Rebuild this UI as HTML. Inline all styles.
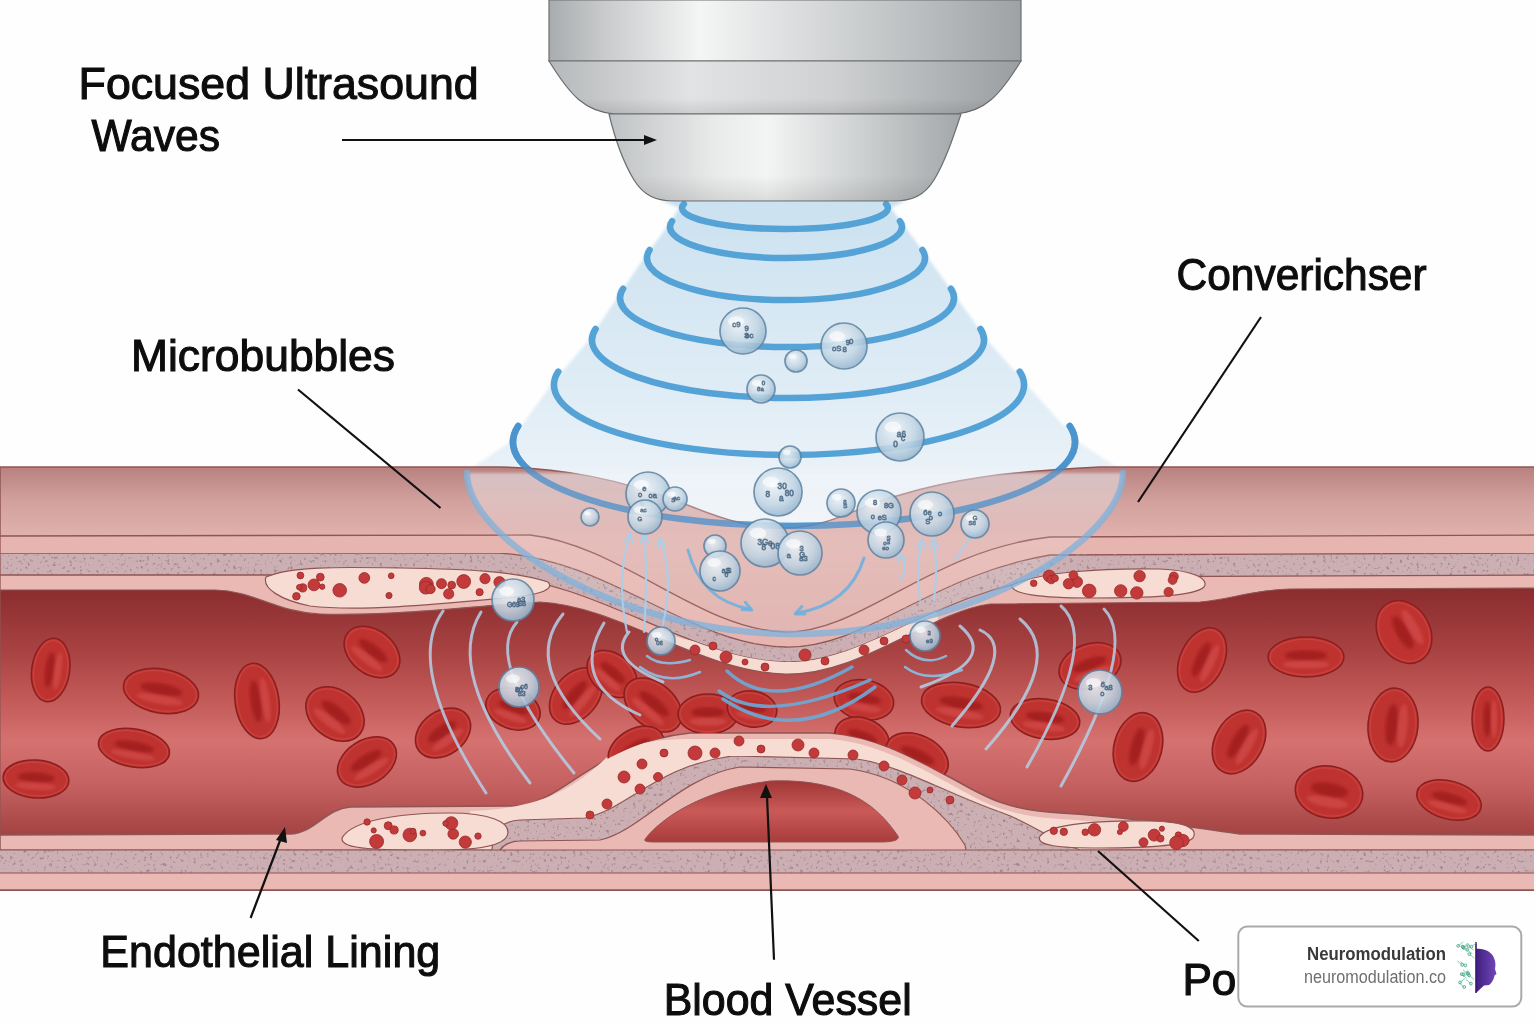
<!DOCTYPE html><html><head><meta charset="utf-8"><style>
html,body{margin:0;padding:0;background:#fff;width:1536px;height:1024px;overflow:hidden}
svg{display:block}
text{font-family:"Liberation Sans",sans-serif}
</style></head><body>
<svg width="1536" height="1024" viewBox="0 0 1536 1024">
<defs>
<linearGradient id="gCyl" x1="0" x2="1" y1="0" y2="0">
<stop offset="0" stop-color="#a9acae"/><stop offset="0.12" stop-color="#c9cbcc"/><stop offset="0.32" stop-color="#f4f5f5"/><stop offset="0.55" stop-color="#d8dadb"/><stop offset="0.8" stop-color="#b9bcbe"/><stop offset="1" stop-color="#9ea2a5"/></linearGradient>
<linearGradient id="gMid" x1="0" x2="1" y1="0" y2="0">
<stop offset="0" stop-color="#b5b8ba"/><stop offset="0.3" stop-color="#e2e3e4"/><stop offset="0.6" stop-color="#cfd1d2"/><stop offset="1" stop-color="#9a9ea1"/></linearGradient>
<linearGradient id="gBot" x1="0" x2="1" y1="0" y2="0">
<stop offset="0" stop-color="#bfc2c4"/><stop offset="0.3" stop-color="#e9eaea"/><stop offset="0.45" stop-color="#f3f4f4"/><stop offset="0.75" stop-color="#c9cccd"/><stop offset="1" stop-color="#a3a7a9"/></linearGradient>
<linearGradient id="gShadeV" x1="0" x2="0" y1="0" y2="1">
<stop offset="0" stop-color="#000" stop-opacity="0"/><stop offset="0.7" stop-color="#000" stop-opacity="0"/><stop offset="1" stop-color="#000" stop-opacity="0.10"/></linearGradient>
<linearGradient id="gWall" x1="0" x2="0" y1="467" y2="536" gradientUnits="userSpaceOnUse">
<stop offset="0" stop-color="#b8817f"/><stop offset="0.5" stop-color="#d2a19e"/><stop offset="1" stop-color="#e0b1ad"/></linearGradient>
<linearGradient id="gLumen" x1="0" x2="0" y1="588" y2="836" gradientUnits="userSpaceOnUse">
<stop offset="0" stop-color="#8a2c2e"/><stop offset="0.25" stop-color="#a84242"/><stop offset="0.45" stop-color="#c25a58"/><stop offset="0.62" stop-color="#d57270"/><stop offset="0.8" stop-color="#c46060"/><stop offset="1" stop-color="#a34242"/></linearGradient>
<linearGradient id="gDome" x1="0" x2="0" y1="780" y2="842" gradientUnits="userSpaceOnUse">
<stop offset="0" stop-color="#9e3534"/><stop offset="0.5" stop-color="#c95a58"/><stop offset="1" stop-color="#a83c3c"/></linearGradient>
<radialGradient id="gRbc" cx="0.35" cy="0.3" r="0.8">
<stop offset="0" stop-color="#d9473f"/><stop offset="0.6" stop-color="#c4302c"/><stop offset="1" stop-color="#a82424"/></radialGradient>
<radialGradient id="gBub" cx="0.4" cy="0.35" r="0.75">
<stop offset="0" stop-color="#eef3f7"/><stop offset="0.55" stop-color="#c3d6e4"/><stop offset="1" stop-color="#8aadc9"/></radialGradient>
<linearGradient id="gCone" x1="0" x2="0" y1="200" y2="540" gradientUnits="userSpaceOnUse">
<stop offset="0" stop-color="#cbe1f0"/><stop offset="0.6" stop-color="#e1edf6"/><stop offset="1" stop-color="#f3f7fa"/></linearGradient>
<filter id="speck" x="0" y="0" width="100%" height="100%" color-interpolation-filters="sRGB">
<feTurbulence type="fractalNoise" baseFrequency="0.3" numOctaves="2" seed="3" result="n"/>
<feColorMatrix type="matrix" values="0 0 0 0 0.64  0 0 0 0 0.52  0 0 0 0 0.55  5 0 0 0 -3.0" result="m"/>
<feComposite in="m" in2="SourceGraphic" operator="in" result="c"/>
<feMerge><feMergeNode in="SourceGraphic"/><feMergeNode in="c"/></feMerge>
</filter>
<filter id="blur6"><feGaussianBlur stdDeviation="6"/></filter>
<filter id="blur2"><feGaussianBlur stdDeviation="1.5"/></filter>
<filter id="blur15"><feGaussianBlur stdDeviation="1.6"/></filter>
<filter id="blur1"><feGaussianBlur stdDeviation="0.8"/></filter>
<clipPath id="belowT3"><path d="M0,575 L490,575 C600,582 690,660 785,662 C865,664 930,595 1050,577 L1536,575 L1536,890 L0,890 Z"/></clipPath>
<mask id="lumenMask" maskUnits="userSpaceOnUse" x="0" y="0" width="1536" height="1024"><path d="M0,590 L215,590 C255,591 275,612 320,614 C400,616 470,606 540,602 C620,606 700,672 785,674 C860,676 930,612 990,604 L1200,602 C1230,600 1250,590 1290,589 L1536,588 L1536,890 L0,890 Z" fill="#fff"/><path d="M0,835 L290,834 C315,833 325,809 350,807 L520,806 C565,800 600,742 690,733 L830,733 C880,737 920,762 955,780 C990,800 1010,810 1060,813 C1140,818 1180,826 1240,834 L1536,835 L1536,890 L0,890 Z" fill="#000"/></mask>
</defs>
<rect width="1536" height="1024" fill="#fefefe"/>

<g filter="url(#blur2)"><polygon points="660,200 679,208 667,227 644,258 617,298 589,340 551,385 510,442 464,473 795,700 1126,473 1078,442 1027,385 987,340 957,298 928,258 905,227 891,208 907,200" fill="url(#gCone)"/>
<path d="M680.9,203.4 A106,24 0 1 0 889.1,203.4 Z" fill="url(#gCone)"/>
<path d="M669.2,220.5 A119,34 0 1 0 902.8,220.5 Z" fill="url(#gCone)"/>
<path d="M646.6,249.4 A142,45 0 1 0 925.4,249.4 Z" fill="url(#gCone)"/>
<path d="M620.1,288.1 A170,52 0 1 0 953.9,288.1 Z" fill="url(#gCone)"/>
<path d="M592.7,328.4 A199,61 0 1 0 983.3,328.4 Z" fill="url(#gCone)"/>
<path d="M555.4,371.1 A238,73 0 1 0 1022.6,371.1 Z" fill="url(#gCone)"/>
<path d="M515.2,425.4 A284,87 0 1 0 1072.8,425.4 Z" fill="url(#gCone)"/>
<path d="M464.0,473.0 A331,164 0 1 0 1126.0,473.0 Z" fill="url(#gCone)"/>
</g>
<path d="M683.9,204.0 A103,21 0 1 0 886.1,204.0" fill="none" stroke="#55a3d6" stroke-width="6.5" stroke-linecap="round"/>
<path d="M672.1,221.1 A116,31 0 1 0 899.9,221.1" fill="none" stroke="#55a3d6" stroke-width="6.5" stroke-linecap="round"/>
<path d="M649.6,250.0 A139,42 0 1 0 922.4,250.0" fill="none" stroke="#55a3d6" stroke-width="6.5" stroke-linecap="round"/>
<path d="M623.1,288.7 A167,49 0 1 0 950.9,288.7" fill="none" stroke="#55a3d6" stroke-width="6.5" stroke-linecap="round"/>
<path d="M595.6,328.9 A196,58 0 1 0 980.4,328.9" fill="none" stroke="#55a3d6" stroke-width="6.5" stroke-linecap="round"/>
<path d="M558.3,371.6 A235,70 0 1 0 1019.7,371.6" fill="none" stroke="#55a3d6" stroke-width="6.5" stroke-linecap="round"/>
<path d="M518.2,426.0 A281,84 0 1 0 1069.8,426.0" fill="none" stroke="#55a3d6" stroke-width="6.5" stroke-linecap="round"/>
<path d="M0,467 L500,467 C560,468 620,478 690,506 C725,520 750,528 785,528 C830,528 860,505 900,495 C950,480 1000,472 1100,467 L1536,467 L1536,890 L0,890 Z" fill="url(#gWall)" stroke="#8f5553" stroke-width="1.5"/>
<path d="M0,536 L530,535 C620,545 700,630 785,632 C860,634 930,550 1050,537 L1536,535 L1536,890 L0,890 Z" fill="#e6b5b0" stroke="#8f5553" stroke-width="1.3"/>
<path d="M0,553 L500,553 C610,560 690,645 785,647 C865,649 930,575 1050,555 L1536,553 L1536,890 L0,890 Z" fill="#cbafb2" stroke="#8f5553" stroke-width="1.3" filter="url(#speck)"/>
<path d="M0,575 L490,575 C600,582 690,660 785,662 C865,664 930,595 1050,577 L1536,575 L1536,890 L0,890 Z" fill="#eab9b4" stroke="#8f5553" stroke-width="1.3"/>
<g clip-path="url(#belowT3)"><path d="M668,648 C700,658 730,661 780,661 C850,661 880,650 925,618" fill="none" stroke="#f7dcd4" stroke-width="26" stroke-linecap="round"/></g>
<path d="M266,577 C290,566 340,567 400,568 C470,569 520,572 548,582 C556,590 535,596 505,598 C440,604 360,612 310,606 C280,600 262,588 266,577 Z" fill="#f7dcd4" stroke="#8f5553" stroke-width="1.2"/>
<path d="M1012,585 C1040,572 1100,568 1160,569 C1190,570 1210,578 1204,587 C1195,596 1150,598 1090,598 C1040,598 1010,594 1012,585 Z" fill="#f7dcd4" stroke="#8f5553" stroke-width="1.2"/>
<path d="M0,590 L215,590 C255,591 275,612 320,614 C400,616 470,606 540,602 C620,606 700,672 785,674 C860,676 930,612 990,604 L1200,602 C1230,600 1250,590 1290,589 L1536,588 L1536,890 L0,890 Z" fill="url(#gLumen)" stroke="#8f5553" stroke-width="1.2"/>
<path d="M0,835 L290,834 C315,833 325,809 350,807 L520,806 C565,800 600,742 690,733 L830,733 C880,737 920,762 955,780 C990,800 1010,810 1060,813 C1140,818 1180,826 1240,834 L1536,835 L1536,890 L0,890 Z" fill="#eab9b4" stroke="#8f5553" stroke-width="1.5"/>
<path d="M470,811 C540,809 575,788 606,758 C630,742 660,739 692,739 L830,739 C878,743 918,767 952,785 C985,804 1008,816 1060,819 C1120,823 1150,828 1175,836 L1100,850 L470,850 Z" fill="#f7dcd4"/>
<path d="M0,850 L492,850 C493,830 502,821 520,820 L585,818 C630,808 655,766 733,756 L857,759 C900,765 950,795 1000,812 C1030,822 1050,840 1080,850 L1536,850 L1536,890 L0,890 Z" fill="#cbafb2" stroke="#8f5553" stroke-width="1.2" filter="url(#speck)"/>
<path d="M0,873 L492,873 C493,855 502,841 520,841 L600,840 C640,832 680,776 740,767 L850,769 C910,777 950,820 965,845 L970,873 L1536,873 L1536,890 L0,890 Z" fill="#eab9b4" stroke="#8f5553" stroke-width="1.2"/>
<path d="M342,838 C352,820 400,813 450,813 C490,813 508,822 508,832 C508,845 480,850 440,850 C380,850 340,850 342,838 Z" fill="#f7dcd4" stroke="#8f5553" stroke-width="1.2"/>
<path d="M1040,836 C1050,824 1100,820 1150,821 C1190,822 1198,830 1193,838 C1185,846 1140,848 1100,848 C1060,848 1035,846 1040,836 Z" fill="#f7dcd4" stroke="#8f5553" stroke-width="1.2"/>
<path d="M646,838 C660,820 700,790 770,781 C850,778 880,810 898,836 C900,841 890,842 880,842 L660,842 C648,842 642,842 646,838 Z" fill="url(#gDome)" stroke="#8f5553" stroke-width="1"/>
<rect x="0" y="850" width="1536" height="23" fill="#cbafb2" filter="url(#speck)"/>
<line x1="0" y1="850" x2="1536" y2="850" stroke="#8f5553" stroke-width="1.2"/>
<rect x="0" y="873" width="1536" height="17" fill="#eab9b4"/>
<line x1="0" y1="873" x2="1536" y2="873" stroke="#8f5553" stroke-width="1.2"/>
<line x1="0" y1="890" x2="1536" y2="890" stroke="#8f5553" stroke-width="1.5"/>
<rect x="1534" y="460" width="2" height="440" fill="#fefefe"/>
<circle cx="364.3" cy="577.9" r="5.4" fill="#c23a3a" stroke="#9a2a2a" stroke-width="0.8"/>
<circle cx="302.7" cy="587.9" r="4.1" fill="#c23a3a" stroke="#9a2a2a" stroke-width="0.8"/>
<circle cx="299.2" cy="587.2" r="2.7" fill="#c23a3a" stroke="#9a2a2a" stroke-width="0.8"/>
<circle cx="391.2" cy="575.8" r="2.9" fill="#c23a3a" stroke="#9a2a2a" stroke-width="0.8"/>
<circle cx="389.0" cy="595.5" r="3.1" fill="#c23a3a" stroke="#9a2a2a" stroke-width="0.8"/>
<circle cx="339.7" cy="590.3" r="6.8" fill="#c23a3a" stroke="#9a2a2a" stroke-width="0.8"/>
<circle cx="426.4" cy="584.3" r="6.9" fill="#c23a3a" stroke="#9a2a2a" stroke-width="0.8"/>
<circle cx="296.4" cy="596.3" r="3.8" fill="#c23a3a" stroke="#9a2a2a" stroke-width="0.8"/>
<circle cx="320.3" cy="577.1" r="3.9" fill="#c23a3a" stroke="#9a2a2a" stroke-width="0.8"/>
<circle cx="485.0" cy="578.7" r="5.1" fill="#c23a3a" stroke="#9a2a2a" stroke-width="0.8"/>
<circle cx="441.5" cy="583.7" r="5.0" fill="#c23a3a" stroke="#9a2a2a" stroke-width="0.8"/>
<circle cx="300.4" cy="575.5" r="3.4" fill="#c23a3a" stroke="#9a2a2a" stroke-width="0.8"/>
<circle cx="451.7" cy="585.1" r="3.9" fill="#c23a3a" stroke="#9a2a2a" stroke-width="0.8"/>
<circle cx="428.5" cy="585.8" r="3.8" fill="#c23a3a" stroke="#9a2a2a" stroke-width="0.8"/>
<circle cx="479.6" cy="592.2" r="3.6" fill="#c23a3a" stroke="#9a2a2a" stroke-width="0.8"/>
<circle cx="425.7" cy="587.7" r="6.4" fill="#c23a3a" stroke="#9a2a2a" stroke-width="0.8"/>
<circle cx="463.7" cy="581.5" r="6.9" fill="#c23a3a" stroke="#9a2a2a" stroke-width="0.8"/>
<circle cx="313.9" cy="584.9" r="5.9" fill="#c23a3a" stroke="#9a2a2a" stroke-width="0.8"/>
<circle cx="322.2" cy="586.7" r="2.7" fill="#c23a3a" stroke="#9a2a2a" stroke-width="0.8"/>
<circle cx="448.7" cy="593.9" r="5.1" fill="#c23a3a" stroke="#9a2a2a" stroke-width="0.8"/>
<circle cx="499.5" cy="582.2" r="5.6" fill="#c23a3a" stroke="#9a2a2a" stroke-width="0.8"/>
<circle cx="430.6" cy="589.1" r="4.6" fill="#c23a3a" stroke="#9a2a2a" stroke-width="0.8"/>
<circle cx="1168.6" cy="592.0" r="4.6" fill="#c23a3a" stroke="#9a2a2a" stroke-width="0.8"/>
<circle cx="1139.6" cy="576.1" r="5.7" fill="#c23a3a" stroke="#9a2a2a" stroke-width="0.8"/>
<circle cx="1136.8" cy="592.9" r="6.2" fill="#c23a3a" stroke="#9a2a2a" stroke-width="0.8"/>
<circle cx="1077.0" cy="581.9" r="5.5" fill="#c23a3a" stroke="#9a2a2a" stroke-width="0.8"/>
<circle cx="1033.7" cy="583.3" r="3.3" fill="#c23a3a" stroke="#9a2a2a" stroke-width="0.8"/>
<circle cx="1049.3" cy="576.1" r="6.0" fill="#c23a3a" stroke="#9a2a2a" stroke-width="0.8"/>
<circle cx="1051.3" cy="579.5" r="4.3" fill="#c23a3a" stroke="#9a2a2a" stroke-width="0.8"/>
<circle cx="1173.8" cy="576.5" r="4.5" fill="#c23a3a" stroke="#9a2a2a" stroke-width="0.8"/>
<circle cx="1120.7" cy="590.9" r="6.2" fill="#c23a3a" stroke="#9a2a2a" stroke-width="0.8"/>
<circle cx="1172.6" cy="580.0" r="4.4" fill="#c23a3a" stroke="#9a2a2a" stroke-width="0.8"/>
<circle cx="1089.2" cy="590.9" r="6.8" fill="#c23a3a" stroke="#9a2a2a" stroke-width="0.8"/>
<circle cx="1054.9" cy="578.2" r="3.5" fill="#c23a3a" stroke="#9a2a2a" stroke-width="0.8"/>
<circle cx="1068.5" cy="583.7" r="5.2" fill="#c23a3a" stroke="#9a2a2a" stroke-width="0.8"/>
<circle cx="1073.4" cy="575.1" r="4.4" fill="#c23a3a" stroke="#9a2a2a" stroke-width="0.8"/>
<circle cx="409.8" cy="835.0" r="6.8" fill="#c23a3a" stroke="#9a2a2a" stroke-width="0.8"/>
<circle cx="453.2" cy="833.9" r="5.3" fill="#c23a3a" stroke="#9a2a2a" stroke-width="0.8"/>
<circle cx="451.3" cy="823.2" r="6.5" fill="#c23a3a" stroke="#9a2a2a" stroke-width="0.8"/>
<circle cx="465.3" cy="842.1" r="6.1" fill="#c23a3a" stroke="#9a2a2a" stroke-width="0.8"/>
<circle cx="413.0" cy="831.2" r="3.0" fill="#c23a3a" stroke="#9a2a2a" stroke-width="0.8"/>
<circle cx="445.6" cy="823.4" r="2.8" fill="#c23a3a" stroke="#9a2a2a" stroke-width="0.8"/>
<circle cx="388.2" cy="825.7" r="4.0" fill="#c23a3a" stroke="#9a2a2a" stroke-width="0.8"/>
<circle cx="367.1" cy="822.0" r="3.2" fill="#c23a3a" stroke="#9a2a2a" stroke-width="0.8"/>
<circle cx="373.7" cy="830.4" r="2.6" fill="#c23a3a" stroke="#9a2a2a" stroke-width="0.8"/>
<circle cx="478.0" cy="836.1" r="3.2" fill="#c23a3a" stroke="#9a2a2a" stroke-width="0.8"/>
<circle cx="394.1" cy="830.0" r="4.1" fill="#c23a3a" stroke="#9a2a2a" stroke-width="0.8"/>
<circle cx="376.6" cy="841.5" r="7.0" fill="#c23a3a" stroke="#9a2a2a" stroke-width="0.8"/>
<circle cx="422.9" cy="833.1" r="2.9" fill="#c23a3a" stroke="#9a2a2a" stroke-width="0.8"/>
<circle cx="1063.8" cy="831.8" r="3.7" fill="#c23a3a" stroke="#9a2a2a" stroke-width="0.8"/>
<circle cx="1161.9" cy="828.7" r="2.6" fill="#c23a3a" stroke="#9a2a2a" stroke-width="0.8"/>
<circle cx="1178.4" cy="835.0" r="3.2" fill="#c23a3a" stroke="#9a2a2a" stroke-width="0.8"/>
<circle cx="1123.3" cy="826.5" r="4.9" fill="#c23a3a" stroke="#9a2a2a" stroke-width="0.8"/>
<circle cx="1182.1" cy="840.7" r="5.6" fill="#c23a3a" stroke="#9a2a2a" stroke-width="0.8"/>
<circle cx="1085.3" cy="832.2" r="3.3" fill="#c23a3a" stroke="#9a2a2a" stroke-width="0.8"/>
<circle cx="1154.2" cy="835.1" r="6.0" fill="#c23a3a" stroke="#9a2a2a" stroke-width="0.8"/>
<circle cx="1094.5" cy="829.8" r="6.2" fill="#c23a3a" stroke="#9a2a2a" stroke-width="0.8"/>
<circle cx="1183.0" cy="840.5" r="6.1" fill="#c23a3a" stroke="#9a2a2a" stroke-width="0.8"/>
<circle cx="1160.5" cy="838.6" r="3.5" fill="#c23a3a" stroke="#9a2a2a" stroke-width="0.8"/>
<circle cx="1119.9" cy="832.0" r="2.6" fill="#c23a3a" stroke="#9a2a2a" stroke-width="0.8"/>
<circle cx="1053.8" cy="830.8" r="3.7" fill="#c23a3a" stroke="#9a2a2a" stroke-width="0.8"/>
<circle cx="1143.5" cy="842.3" r="4.5" fill="#c23a3a" stroke="#9a2a2a" stroke-width="0.8"/>
<circle cx="1176.5" cy="842.8" r="6.8" fill="#c23a3a" stroke="#9a2a2a" stroke-width="0.8"/>
<circle cx="624" cy="777" r="6" fill="#c23a3a" stroke="#9a2a2a" stroke-width="0.8"/>
<circle cx="640" cy="789" r="5" fill="#c23a3a" stroke="#9a2a2a" stroke-width="0.8"/>
<circle cx="658" cy="777" r="4.5" fill="#c23a3a" stroke="#9a2a2a" stroke-width="0.8"/>
<circle cx="642" cy="764" r="5" fill="#c23a3a" stroke="#9a2a2a" stroke-width="0.8"/>
<circle cx="664" cy="753" r="4" fill="#c23a3a" stroke="#9a2a2a" stroke-width="0.8"/>
<circle cx="695" cy="753" r="7" fill="#c23a3a" stroke="#9a2a2a" stroke-width="0.8"/>
<circle cx="715" cy="753" r="5" fill="#c23a3a" stroke="#9a2a2a" stroke-width="0.8"/>
<circle cx="739" cy="741" r="5" fill="#c23a3a" stroke="#9a2a2a" stroke-width="0.8"/>
<circle cx="761" cy="749" r="4" fill="#c23a3a" stroke="#9a2a2a" stroke-width="0.8"/>
<circle cx="798" cy="745" r="6" fill="#c23a3a" stroke="#9a2a2a" stroke-width="0.8"/>
<circle cx="814" cy="753" r="5" fill="#c23a3a" stroke="#9a2a2a" stroke-width="0.8"/>
<circle cx="853" cy="755" r="5" fill="#c23a3a" stroke="#9a2a2a" stroke-width="0.8"/>
<circle cx="884" cy="766" r="5" fill="#c23a3a" stroke="#9a2a2a" stroke-width="0.8"/>
<circle cx="902" cy="780" r="5" fill="#c23a3a" stroke="#9a2a2a" stroke-width="0.8"/>
<circle cx="915" cy="793" r="6" fill="#c23a3a" stroke="#9a2a2a" stroke-width="0.8"/>
<circle cx="607" cy="804" r="5" fill="#c23a3a" stroke="#9a2a2a" stroke-width="0.8"/>
<circle cx="590" cy="815" r="4" fill="#c23a3a" stroke="#9a2a2a" stroke-width="0.8"/>
<circle cx="930" cy="790" r="3" fill="#c23a3a" stroke="#9a2a2a" stroke-width="0.8"/>
<circle cx="950" cy="800" r="4" fill="#c23a3a" stroke="#9a2a2a" stroke-width="0.8"/>
<circle cx="695" cy="650" r="5" fill="#c23a3a" stroke="#9a2a2a" stroke-width="0.8"/>
<circle cx="713" cy="646" r="4" fill="#c23a3a" stroke="#9a2a2a" stroke-width="0.8"/>
<circle cx="726" cy="657" r="6" fill="#c23a3a" stroke="#9a2a2a" stroke-width="0.8"/>
<circle cx="765" cy="667" r="4" fill="#c23a3a" stroke="#9a2a2a" stroke-width="0.8"/>
<circle cx="805" cy="655" r="6" fill="#c23a3a" stroke="#9a2a2a" stroke-width="0.8"/>
<circle cx="825" cy="661" r="4" fill="#c23a3a" stroke="#9a2a2a" stroke-width="0.8"/>
<circle cx="864" cy="650" r="5" fill="#c23a3a" stroke="#9a2a2a" stroke-width="0.8"/>
<circle cx="884" cy="641" r="4" fill="#c23a3a" stroke="#9a2a2a" stroke-width="0.8"/>
<circle cx="906" cy="639" r="4" fill="#c23a3a" stroke="#9a2a2a" stroke-width="0.8"/>
<circle cx="745" cy="662" r="3" fill="#c23a3a" stroke="#9a2a2a" stroke-width="0.8"/>
<g mask="url(#lumenMask)">
<g transform="translate(50.7,670) rotate(8)"><ellipse rx="19" ry="32" fill="#be322f" stroke="#8a1f20" stroke-width="1.5"/><ellipse rx="16.8" ry="29.8" fill="none" stroke="#cc4540" stroke-width="1.6" opacity="0.7"/><ellipse cx="-1.0" cy="0" rx="4.6" ry="17.6" fill="#9e1a1e" opacity="0.8" filter="url(#blur15)"/><ellipse cx="7.2" cy="0" rx="3.8" ry="19.2" fill="#d85552" opacity="0.55" filter="url(#blur15)"/></g>
<g transform="translate(161,691) rotate(10)"><ellipse rx="38" ry="22" fill="#be322f" stroke="#8a1f20" stroke-width="1.5"/><ellipse rx="35.8" ry="19.8" fill="none" stroke="#cc4540" stroke-width="1.6" opacity="0.7"/><ellipse cx="0" cy="-1.8" rx="20.9" ry="5.7" fill="#9e1a1e" opacity="0.8" filter="url(#blur15)"/><ellipse cx="0" cy="8.4" rx="23.6" ry="4.4" fill="#d85552" opacity="0.55" filter="url(#blur15)"/></g>
<g transform="translate(257,701) rotate(-8)"><ellipse rx="22" ry="38" fill="#be322f" stroke="#8a1f20" stroke-width="1.5"/><ellipse rx="19.8" ry="35.8" fill="none" stroke="#cc4540" stroke-width="1.6" opacity="0.7"/><ellipse cx="-1.1" cy="0" rx="5.3" ry="20.9" fill="#9e1a1e" opacity="0.8" filter="url(#blur15)"/><ellipse cx="8.4" cy="0" rx="4.4" ry="22.8" fill="#d85552" opacity="0.55" filter="url(#blur15)"/></g>
<g transform="translate(134,748) rotate(10)"><ellipse rx="36" ry="19" fill="#be322f" stroke="#8a1f20" stroke-width="1.5"/><ellipse rx="33.8" ry="16.8" fill="none" stroke="#cc4540" stroke-width="1.6" opacity="0.7"/><ellipse cx="0" cy="-1.5" rx="19.8" ry="4.9" fill="#9e1a1e" opacity="0.8" filter="url(#blur15)"/><ellipse cx="0" cy="7.2" rx="22.3" ry="3.8" fill="#d85552" opacity="0.55" filter="url(#blur15)"/></g>
<g transform="translate(36,779) rotate(4)"><ellipse rx="33" ry="19" fill="#be322f" stroke="#8a1f20" stroke-width="1.5"/><ellipse rx="30.8" ry="16.8" fill="none" stroke="#cc4540" stroke-width="1.6" opacity="0.7"/><ellipse cx="0" cy="-1.5" rx="18.2" ry="4.9" fill="#9e1a1e" opacity="0.8" filter="url(#blur15)"/><ellipse cx="0" cy="7.2" rx="20.5" ry="3.8" fill="#d85552" opacity="0.55" filter="url(#blur15)"/></g>
<g transform="translate(335,714) rotate(38)"><ellipse rx="32" ry="24" fill="#be322f" stroke="#8a1f20" stroke-width="1.5"/><ellipse rx="29.8" ry="21.8" fill="none" stroke="#cc4540" stroke-width="1.6" opacity="0.7"/><ellipse cx="0" cy="-1.9" rx="17.6" ry="6.2" fill="#9e1a1e" opacity="0.8" filter="url(#blur15)"/><ellipse cx="0" cy="9.1" rx="19.8" ry="4.8" fill="#d85552" opacity="0.55" filter="url(#blur15)"/></g>
<g transform="translate(372,652) rotate(38)"><ellipse rx="31" ry="22" fill="#be322f" stroke="#8a1f20" stroke-width="1.5"/><ellipse rx="28.8" ry="19.8" fill="none" stroke="#cc4540" stroke-width="1.6" opacity="0.7"/><ellipse cx="0" cy="-1.8" rx="17.1" ry="5.7" fill="#9e1a1e" opacity="0.8" filter="url(#blur15)"/><ellipse cx="0" cy="8.4" rx="19.2" ry="4.4" fill="#d85552" opacity="0.55" filter="url(#blur15)"/></g>
<g transform="translate(367,762) rotate(-32)"><ellipse rx="32" ry="22" fill="#be322f" stroke="#8a1f20" stroke-width="1.5"/><ellipse rx="29.8" ry="19.8" fill="none" stroke="#cc4540" stroke-width="1.6" opacity="0.7"/><ellipse cx="0" cy="-1.8" rx="17.6" ry="5.7" fill="#9e1a1e" opacity="0.8" filter="url(#blur15)"/><ellipse cx="0" cy="8.4" rx="19.8" ry="4.4" fill="#d85552" opacity="0.55" filter="url(#blur15)"/></g>
<g transform="translate(443,733) rotate(-35)"><ellipse rx="30" ry="22" fill="#be322f" stroke="#8a1f20" stroke-width="1.5"/><ellipse rx="27.8" ry="19.8" fill="none" stroke="#cc4540" stroke-width="1.6" opacity="0.7"/><ellipse cx="0" cy="-1.8" rx="16.5" ry="5.7" fill="#9e1a1e" opacity="0.8" filter="url(#blur15)"/><ellipse cx="0" cy="8.4" rx="18.6" ry="4.4" fill="#d85552" opacity="0.55" filter="url(#blur15)"/></g>
<g transform="translate(513,709) rotate(20)"><ellipse rx="28" ry="20" fill="#be322f" stroke="#8a1f20" stroke-width="1.5"/><ellipse rx="25.8" ry="17.8" fill="none" stroke="#cc4540" stroke-width="1.6" opacity="0.7"/><ellipse cx="0" cy="-1.6" rx="15.4" ry="5.2" fill="#9e1a1e" opacity="0.8" filter="url(#blur15)"/><ellipse cx="0" cy="7.6" rx="17.4" ry="4.0" fill="#d85552" opacity="0.55" filter="url(#blur15)"/></g>
<g transform="translate(576,696) rotate(-50)"><ellipse rx="32" ry="22" fill="#be322f" stroke="#8a1f20" stroke-width="1.5"/><ellipse rx="29.8" ry="19.8" fill="none" stroke="#cc4540" stroke-width="1.6" opacity="0.7"/><ellipse cx="0" cy="-1.8" rx="17.6" ry="5.7" fill="#9e1a1e" opacity="0.8" filter="url(#blur15)"/><ellipse cx="0" cy="8.4" rx="19.8" ry="4.4" fill="#d85552" opacity="0.55" filter="url(#blur15)"/></g>
<g transform="translate(612,674) rotate(40)"><ellipse rx="28" ry="20" fill="#be322f" stroke="#8a1f20" stroke-width="1.5"/><ellipse rx="25.8" ry="17.8" fill="none" stroke="#cc4540" stroke-width="1.6" opacity="0.7"/><ellipse cx="0" cy="-1.6" rx="15.4" ry="5.2" fill="#9e1a1e" opacity="0.8" filter="url(#blur15)"/><ellipse cx="0" cy="7.6" rx="17.4" ry="4.0" fill="#d85552" opacity="0.55" filter="url(#blur15)"/></g>
<g transform="translate(653,705) rotate(40)"><ellipse rx="33" ry="22" fill="#be322f" stroke="#8a1f20" stroke-width="1.5"/><ellipse rx="30.8" ry="19.8" fill="none" stroke="#cc4540" stroke-width="1.6" opacity="0.7"/><ellipse cx="0" cy="-1.8" rx="18.2" ry="5.7" fill="#9e1a1e" opacity="0.8" filter="url(#blur15)"/><ellipse cx="0" cy="8.4" rx="20.5" ry="4.4" fill="#d85552" opacity="0.55" filter="url(#blur15)"/></g>
<g transform="translate(636,749) rotate(-30)"><ellipse rx="30" ry="20" fill="#be322f" stroke="#8a1f20" stroke-width="1.5"/><ellipse rx="27.8" ry="17.8" fill="none" stroke="#cc4540" stroke-width="1.6" opacity="0.7"/><ellipse cx="0" cy="-1.6" rx="16.5" ry="5.2" fill="#9e1a1e" opacity="0.8" filter="url(#blur15)"/><ellipse cx="0" cy="7.6" rx="18.6" ry="4.0" fill="#d85552" opacity="0.55" filter="url(#blur15)"/></g>
<g transform="translate(708,714) rotate(0)"><ellipse rx="30" ry="20" fill="#be322f" stroke="#8a1f20" stroke-width="1.5"/><ellipse rx="27.8" ry="17.8" fill="none" stroke="#cc4540" stroke-width="1.6" opacity="0.7"/><ellipse cx="0" cy="-1.6" rx="16.5" ry="5.2" fill="#9e1a1e" opacity="0.8" filter="url(#blur15)"/><ellipse cx="0" cy="7.6" rx="18.6" ry="4.0" fill="#d85552" opacity="0.55" filter="url(#blur15)"/></g>
<g transform="translate(752,709) rotate(10)"><ellipse rx="25" ry="18" fill="#be322f" stroke="#8a1f20" stroke-width="1.5"/><ellipse rx="22.8" ry="15.8" fill="none" stroke="#cc4540" stroke-width="1.6" opacity="0.7"/><ellipse cx="0" cy="-1.4" rx="13.8" ry="4.7" fill="#9e1a1e" opacity="0.8" filter="url(#blur15)"/><ellipse cx="0" cy="6.8" rx="15.5" ry="3.6" fill="#d85552" opacity="0.55" filter="url(#blur15)"/></g>
<g transform="translate(864,700) rotate(10)"><ellipse rx="30" ry="20" fill="#be322f" stroke="#8a1f20" stroke-width="1.5"/><ellipse rx="27.8" ry="17.8" fill="none" stroke="#cc4540" stroke-width="1.6" opacity="0.7"/><ellipse cx="0" cy="-1.6" rx="16.5" ry="5.2" fill="#9e1a1e" opacity="0.8" filter="url(#blur15)"/><ellipse cx="0" cy="7.6" rx="18.6" ry="4.0" fill="#d85552" opacity="0.55" filter="url(#blur15)"/></g>
<g transform="translate(862,738) rotate(20)"><ellipse rx="28" ry="20" fill="#be322f" stroke="#8a1f20" stroke-width="1.5"/><ellipse rx="25.8" ry="17.8" fill="none" stroke="#cc4540" stroke-width="1.6" opacity="0.7"/><ellipse cx="0" cy="-1.6" rx="15.4" ry="5.2" fill="#9e1a1e" opacity="0.8" filter="url(#blur15)"/><ellipse cx="0" cy="7.6" rx="17.4" ry="4.0" fill="#d85552" opacity="0.55" filter="url(#blur15)"/></g>
<g transform="translate(917,757) rotate(25)"><ellipse rx="33" ry="22" fill="#be322f" stroke="#8a1f20" stroke-width="1.5"/><ellipse rx="30.8" ry="19.8" fill="none" stroke="#cc4540" stroke-width="1.6" opacity="0.7"/><ellipse cx="0" cy="-1.8" rx="18.2" ry="5.7" fill="#9e1a1e" opacity="0.8" filter="url(#blur15)"/><ellipse cx="0" cy="8.4" rx="20.5" ry="4.4" fill="#d85552" opacity="0.55" filter="url(#blur15)"/></g>
<g transform="translate(961,705) rotate(10)"><ellipse rx="40" ry="22" fill="#be322f" stroke="#8a1f20" stroke-width="1.5"/><ellipse rx="37.8" ry="19.8" fill="none" stroke="#cc4540" stroke-width="1.6" opacity="0.7"/><ellipse cx="0" cy="-1.8" rx="22.0" ry="5.7" fill="#9e1a1e" opacity="0.8" filter="url(#blur15)"/><ellipse cx="0" cy="8.4" rx="24.8" ry="4.4" fill="#d85552" opacity="0.55" filter="url(#blur15)"/></g>
<g transform="translate(1045,719) rotate(8)"><ellipse rx="35" ry="20" fill="#be322f" stroke="#8a1f20" stroke-width="1.5"/><ellipse rx="32.8" ry="17.8" fill="none" stroke="#cc4540" stroke-width="1.6" opacity="0.7"/><ellipse cx="0" cy="-1.6" rx="19.2" ry="5.2" fill="#9e1a1e" opacity="0.8" filter="url(#blur15)"/><ellipse cx="0" cy="7.6" rx="21.7" ry="4.0" fill="#d85552" opacity="0.55" filter="url(#blur15)"/></g>
<g transform="translate(1090,666) rotate(-20)"><ellipse rx="32" ry="22" fill="#be322f" stroke="#8a1f20" stroke-width="1.5"/><ellipse rx="29.8" ry="19.8" fill="none" stroke="#cc4540" stroke-width="1.6" opacity="0.7"/><ellipse cx="0" cy="-1.8" rx="17.6" ry="5.7" fill="#9e1a1e" opacity="0.8" filter="url(#blur15)"/><ellipse cx="0" cy="8.4" rx="19.8" ry="4.4" fill="#d85552" opacity="0.55" filter="url(#blur15)"/></g>
<g transform="translate(1202,660) rotate(25)"><ellipse rx="22" ry="34" fill="#be322f" stroke="#8a1f20" stroke-width="1.5"/><ellipse rx="19.8" ry="31.8" fill="none" stroke="#cc4540" stroke-width="1.6" opacity="0.7"/><ellipse cx="-1.1" cy="0" rx="5.3" ry="18.7" fill="#9e1a1e" opacity="0.8" filter="url(#blur15)"/><ellipse cx="8.4" cy="0" rx="4.4" ry="20.4" fill="#d85552" opacity="0.55" filter="url(#blur15)"/></g>
<g transform="translate(1306,657) rotate(0)"><ellipse rx="38" ry="20" fill="#be322f" stroke="#8a1f20" stroke-width="1.5"/><ellipse rx="35.8" ry="17.8" fill="none" stroke="#cc4540" stroke-width="1.6" opacity="0.7"/><ellipse cx="0" cy="-1.6" rx="20.9" ry="5.2" fill="#9e1a1e" opacity="0.8" filter="url(#blur15)"/><ellipse cx="0" cy="7.6" rx="23.6" ry="4.0" fill="#d85552" opacity="0.55" filter="url(#blur15)"/></g>
<g transform="translate(1404,632) rotate(-30)"><ellipse rx="26" ry="33" fill="#be322f" stroke="#8a1f20" stroke-width="1.5"/><ellipse rx="23.8" ry="30.8" fill="none" stroke="#cc4540" stroke-width="1.6" opacity="0.7"/><ellipse cx="-1.3" cy="0" rx="6.2" ry="18.2" fill="#9e1a1e" opacity="0.8" filter="url(#blur15)"/><ellipse cx="9.9" cy="0" rx="5.2" ry="19.8" fill="#d85552" opacity="0.55" filter="url(#blur15)"/></g>
<g transform="translate(1138,747) rotate(15)"><ellipse rx="24" ry="35" fill="#be322f" stroke="#8a1f20" stroke-width="1.5"/><ellipse rx="21.8" ry="32.8" fill="none" stroke="#cc4540" stroke-width="1.6" opacity="0.7"/><ellipse cx="-1.2" cy="0" rx="5.8" ry="19.2" fill="#9e1a1e" opacity="0.8" filter="url(#blur15)"/><ellipse cx="9.1" cy="0" rx="4.8" ry="21.0" fill="#d85552" opacity="0.55" filter="url(#blur15)"/></g>
<g transform="translate(1239,742) rotate(30)"><ellipse rx="24" ry="34" fill="#be322f" stroke="#8a1f20" stroke-width="1.5"/><ellipse rx="21.8" ry="31.8" fill="none" stroke="#cc4540" stroke-width="1.6" opacity="0.7"/><ellipse cx="-1.2" cy="0" rx="5.8" ry="18.7" fill="#9e1a1e" opacity="0.8" filter="url(#blur15)"/><ellipse cx="9.1" cy="0" rx="4.8" ry="20.4" fill="#d85552" opacity="0.55" filter="url(#blur15)"/></g>
<g transform="translate(1393,725) rotate(5)"><ellipse rx="25" ry="37" fill="#be322f" stroke="#8a1f20" stroke-width="1.5"/><ellipse rx="22.8" ry="34.8" fill="none" stroke="#cc4540" stroke-width="1.6" opacity="0.7"/><ellipse cx="-1.2" cy="0" rx="6.0" ry="20.4" fill="#9e1a1e" opacity="0.8" filter="url(#blur15)"/><ellipse cx="9.5" cy="0" rx="5.0" ry="22.2" fill="#d85552" opacity="0.55" filter="url(#blur15)"/></g>
<g transform="translate(1488,719) rotate(0)"><ellipse rx="16" ry="32" fill="#be322f" stroke="#8a1f20" stroke-width="1.5"/><ellipse rx="13.8" ry="29.8" fill="none" stroke="#cc4540" stroke-width="1.6" opacity="0.7"/><ellipse cx="-0.8" cy="0" rx="3.8" ry="17.6" fill="#9e1a1e" opacity="0.8" filter="url(#blur15)"/><ellipse cx="6.1" cy="0" rx="3.2" ry="19.2" fill="#d85552" opacity="0.55" filter="url(#blur15)"/></g>
<g transform="translate(1329,792) rotate(10)"><ellipse rx="34" ry="26" fill="#be322f" stroke="#8a1f20" stroke-width="1.5"/><ellipse rx="31.8" ry="23.8" fill="none" stroke="#cc4540" stroke-width="1.6" opacity="0.7"/><ellipse cx="0" cy="-2.1" rx="18.7" ry="6.8" fill="#9e1a1e" opacity="0.8" filter="url(#blur15)"/><ellipse cx="0" cy="9.9" rx="21.1" ry="5.2" fill="#d85552" opacity="0.55" filter="url(#blur15)"/></g>
<g transform="translate(1449,800) rotate(15)"><ellipse rx="33" ry="19" fill="#be322f" stroke="#8a1f20" stroke-width="1.5"/><ellipse rx="30.8" ry="16.8" fill="none" stroke="#cc4540" stroke-width="1.6" opacity="0.7"/><ellipse cx="0" cy="-1.5" rx="18.2" ry="4.9" fill="#9e1a1e" opacity="0.8" filter="url(#blur15)"/><ellipse cx="0" cy="7.2" rx="20.5" ry="3.8" fill="#d85552" opacity="0.55" filter="url(#blur15)"/></g>
</g>
<path d="M443,611 Q403.5,666.0 486,793" fill="none" stroke="#b3d0e8" stroke-width="3" stroke-linecap="round" opacity="0.85"/>
<path d="M481,612 Q444.5,670.5 530,783" fill="none" stroke="#b3d0e8" stroke-width="3" stroke-linecap="round" opacity="0.85"/>
<path d="M517,622 Q482.5,660.5 574,773" fill="none" stroke="#b3d0e8" stroke-width="3" stroke-linecap="round" opacity="0.85"/>
<path d="M563,614 Q520.5,665.5 600,739" fill="none" stroke="#b3d0e8" stroke-width="3" stroke-linecap="round" opacity="0.85"/>
<path d="M604,623 Q568.0,683.0 640,715" fill="none" stroke="#b3d0e8" stroke-width="3" stroke-linecap="round" opacity="0.85"/>
<path d="M629,632 Q606.0,659.0 663,682" fill="none" stroke="#b3d0e8" stroke-width="3" stroke-linecap="round" opacity="0.85"/>
<path d="M960,626 Q999.5,659.5 921,687" fill="none" stroke="#b3d0e8" stroke-width="3" stroke-linecap="round" opacity="0.85"/>
<path d="M980,630 Q1020.0,648.0 952,726" fill="none" stroke="#b3d0e8" stroke-width="3" stroke-linecap="round" opacity="0.85"/>
<path d="M1020,619 Q1067.0,658.0 986,749" fill="none" stroke="#b3d0e8" stroke-width="3" stroke-linecap="round" opacity="0.85"/>
<path d="M1061,606 Q1100.0,639.5 1027,767" fill="none" stroke="#b3d0e8" stroke-width="3" stroke-linecap="round" opacity="0.85"/>
<path d="M1104,609 Q1139.5,644.5 1061,786" fill="none" stroke="#b3d0e8" stroke-width="3" stroke-linecap="round" opacity="0.85"/>
<path d="M727,671 Q770.5,713.0 852,667" fill="none" stroke="#6aaad8" stroke-width="3.5" stroke-linecap="round" opacity="0.9"/>
<path d="M719,691 Q765.5,726.5 870,680" fill="none" stroke="#6aaad8" stroke-width="3.5" stroke-linecap="round" opacity="0.9"/>
<path d="M723,699 Q795.0,747.0 875,687" fill="none" stroke="#6aaad8" stroke-width="3.5" stroke-linecap="round" opacity="0.9"/>
<path d="M906,650 Q924.0,667.0 946,656" fill="none" stroke="#8dbfe4" stroke-width="2.5" stroke-linecap="round" opacity="0.9"/>
<path d="M905,667 Q926.5,683.5 962,670" fill="none" stroke="#8dbfe4" stroke-width="2.5" stroke-linecap="round" opacity="0.9"/>
<path d="M647,656 Q661.5,668.0 690,660" fill="none" stroke="#8dbfe4" stroke-width="2.5" stroke-linecap="round" opacity="0.9"/>
<path d="M640,667 Q666.0,686.5 700,672" fill="none" stroke="#8dbfe4" stroke-width="2.5" stroke-linecap="round" opacity="0.9"/>
<defs><linearGradient id="gWash" x1="0" x2="0" y1="470" y2="640" gradientUnits="userSpaceOnUse"><stop offset="0" stop-color="#eef5fb" stop-opacity="0.55"/><stop offset="0.35" stop-color="#f4f0f2" stop-opacity="0.2"/><stop offset="1" stop-color="#ffffff" stop-opacity="0.05"/></linearGradient><clipPath id="aboveT1"><path d="{T1} L1536,0 L0,0 Z"/></clipPath></defs>
<g clip-path="url(#aboveT1)"><path d="M630,575 C700,612 740,620 785,620 C840,620 890,604 950,570" fill="none" stroke="#b06a6a" stroke-width="18" opacity="0.3" filter="url(#blur6)"/></g>
<path d="M467,473 C467,540 620,634 795,634 C970,634 1123,540 1123,473 Z" fill="url(#gWash)" filter="url(#blur2)"/>
<path d="M518.2,426.0 A281,84 0 1 0 1069.8,426.0" fill="none" stroke="#4a8fcb" stroke-width="6.5" stroke-linecap="round" opacity="0.75"/>
<path d="M467,473 C467,540 620,634 795,634 C970,634 1123,540 1123,473" fill="none" stroke="#7fb2dc" stroke-width="6.5" stroke-linecap="round" opacity="0.75"/>
<path d="M627,632 Q615.5,576.5 630,535" fill="none" stroke="#a9cfea" stroke-width="2.2" stroke-linecap="round" opacity="0.9"/>
<path d="M630.4,533.0 L632.7,542.6 M630.4,533.0 L624.8,541.2" stroke="#a9cfea" stroke-width="2.2" fill="none" opacity="0.9" stroke-linecap="round"/>
<path d="M644,632 Q648.0,576.5 644,535" fill="none" stroke="#a9cfea" stroke-width="2.2" stroke-linecap="round" opacity="0.9"/>
<path d="M643.9,533.0 L648.3,541.8 M643.9,533.0 L640.3,542.2" stroke="#a9cfea" stroke-width="2.2" fill="none" opacity="0.9" stroke-linecap="round"/>
<path d="M662,628 Q675.0,576.0 660,540" fill="none" stroke="#a9cfea" stroke-width="2.2" stroke-linecap="round" opacity="0.9"/>
<path d="M659.6,538.0 L665.3,546.1 M659.6,538.0 L657.5,547.6" stroke="#a9cfea" stroke-width="2.2" fill="none" opacity="0.9" stroke-linecap="round"/>
<path d="M920,600 Q915.0,569.5 922,541" fill="none" stroke="#a9cfea" stroke-width="2.2" stroke-linecap="round" opacity="0.9"/>
<path d="M922.3,539.0 L925.0,548.5 M922.3,539.0 L917.1,547.4" stroke="#a9cfea" stroke-width="2.2" fill="none" opacity="0.9" stroke-linecap="round"/>
<path d="M934,600 Q938.0,569.5 934,541" fill="none" stroke="#a9cfea" stroke-width="2.2" stroke-linecap="round" opacity="0.9"/>
<path d="M933.9,539.0 L938.5,547.7 M933.9,539.0 L930.5,548.3" stroke="#a9cfea" stroke-width="2.2" fill="none" opacity="0.9" stroke-linecap="round"/>
<path d="M900,580 Q911.0,562.5 898,555" fill="none" stroke="#a9cfea" stroke-width="2.2" stroke-linecap="round" opacity="0.9"/>
<path d="M896.9,553.4 L905.3,558.4 M896.9,553.4 L898.7,563.0" stroke="#a9cfea" stroke-width="2.2" fill="none" opacity="0.9" stroke-linecap="round"/>
<path d="M955,560 Q965.0,545.0 975,530" fill="none" stroke="#a9cfea" stroke-width="2.2" stroke-linecap="round" opacity="0.9"/>
<path d="M976.1,528.3 L974.4,538.0 M976.1,528.3 L967.8,533.6" stroke="#a9cfea" stroke-width="2.2" fill="none" opacity="0.9" stroke-linecap="round"/>
<path d="M688,550 Q701.0,600.5 750,609" fill="none" stroke="#6fb0de" stroke-width="3" stroke-linecap="round" opacity="0.9"/>
<path d="M751.8,609.9 L742.0,609.6 M751.8,609.9 L745.4,602.4" stroke="#6fb0de" stroke-width="3" fill="none" opacity="0.9" stroke-linecap="round"/>
<path d="M864,558 Q849.5,604.5 797,613" fill="none" stroke="#6fb0de" stroke-width="3" stroke-linecap="round" opacity="0.9"/>
<path d="M795.2,613.8 L801.9,606.6 M795.2,613.8 L805.0,614.0" stroke="#6fb0de" stroke-width="3" fill="none" opacity="0.9" stroke-linecap="round"/>
<path d="M549,0 L1021,0 L1021,61 L549,61 Z" fill="url(#gCyl)" stroke="#6c6f71" stroke-width="1.2"/>
<path d="M549,61 L1021,61 C1000,95 985,112 955,114 L615,114 C585,112 570,95 549,61 Z" fill="url(#gMid)" stroke="#6c6f71" stroke-width="1.2"/>
<path d="M549,61 L1021,61 C1000,95 985,112 955,114 L615,114 C585,112 570,95 549,61 Z" fill="url(#gShadeV)"/>
<path d="M609,114 L961,114 C954,135 946,160 934,180 C924,196 912,201 893,201 L675,201 C656,201 644,196 634,180 C622,160 614,135 609,114 Z" fill="url(#gBot)" stroke="#6c6f71" stroke-width="1.2"/>
<path d="M609,114 L961,114 C954,135 946,160 934,180 C924,196 912,201 893,201 L675,201 C656,201 644,196 634,180 C622,160 614,135 609,114 Z" fill="url(#gShadeV)"/>
<circle cx="743" cy="331" r="23" fill="url(#gBub)" stroke="#5f84a2" stroke-width="1.7" opacity="0.88"/><ellipse cx="736.1" cy="321.3" rx="8.0" ry="5.1" fill="#fff" opacity="0.6"/>
<text x="745.2" y="338.1" font-size="7.8" fill="none" stroke="#3f5f7c" stroke-width="0.8" opacity="0.8">oc</text>
<text x="732.3" y="326.7" font-size="7.8" fill="none" stroke="#3f5f7c" stroke-width="0.8" opacity="0.8">c9</text>
<text x="744.5" y="331.2" font-size="7.8" fill="none" stroke="#3f5f7c" stroke-width="0.8" opacity="0.8">9</text>
<text x="744.2" y="338.1" font-size="7.8" fill="none" stroke="#3f5f7c" stroke-width="0.8" opacity="0.8">3</text>
<circle cx="844" cy="346" r="23" fill="url(#gBub)" stroke="#5f84a2" stroke-width="1.7" opacity="0.88"/><ellipse cx="837.1" cy="336.3" rx="8.0" ry="5.1" fill="#fff" opacity="0.6"/>
<text x="845.7" y="345.1" font-size="7.8" fill="none" stroke="#3f5f7c" stroke-width="0.8" opacity="0.8">9</text>
<text x="832.0" y="351.2" font-size="7.8" fill="none" stroke="#3f5f7c" stroke-width="0.8" opacity="0.8">oS</text>
<text x="842.5" y="352.2" font-size="7.8" fill="none" stroke="#3f5f7c" stroke-width="0.8" opacity="0.8">8</text>
<text x="848.9" y="343.6" font-size="7.8" fill="none" stroke="#3f5f7c" stroke-width="0.8" opacity="0.8">0</text>
<circle cx="796" cy="361" r="11" fill="url(#gBub)" stroke="#5f84a2" stroke-width="1.7" opacity="0.88"/><ellipse cx="792.7" cy="356.4" rx="3.8" ry="2.4" fill="#fff" opacity="0.6"/>
<circle cx="761" cy="389" r="14" fill="url(#gBub)" stroke="#5f84a2" stroke-width="1.7" opacity="0.88"/><ellipse cx="756.8" cy="383.1" rx="4.9" ry="3.1" fill="#fff" opacity="0.6"/>
<text x="761.8" y="385.3" font-size="6.0" fill="none" stroke="#3f5f7c" stroke-width="0.8" opacity="0.8">0</text>
<text x="757.1" y="390.9" font-size="6.0" fill="none" stroke="#3f5f7c" stroke-width="0.8" opacity="0.8">8a</text>
<circle cx="900" cy="437" r="24" fill="url(#gBub)" stroke="#5f84a2" stroke-width="1.7" opacity="0.88"/><ellipse cx="892.8" cy="426.9" rx="8.4" ry="5.3" fill="#fff" opacity="0.6"/>
<text x="896.7" y="436.5" font-size="8.2" fill="none" stroke="#3f5f7c" stroke-width="0.8" opacity="0.8">a</text>
<text x="901.1" y="441.0" font-size="8.2" fill="none" stroke="#3f5f7c" stroke-width="0.8" opacity="0.8">c</text>
<text x="893.2" y="447.0" font-size="8.2" fill="none" stroke="#3f5f7c" stroke-width="0.8" opacity="0.8">0</text>
<text x="901.6" y="437.1" font-size="8.2" fill="none" stroke="#3f5f7c" stroke-width="0.8" opacity="0.8">6</text>
<circle cx="790" cy="457" r="11" fill="url(#gBub)" stroke="#5f84a2" stroke-width="1.7" opacity="0.88"/><ellipse cx="786.7" cy="452.4" rx="3.8" ry="2.4" fill="#fff" opacity="0.6"/>
<circle cx="778" cy="492" r="24" fill="url(#gBub)" stroke="#5f84a2" stroke-width="1.7" opacity="0.88"/><ellipse cx="770.8" cy="481.9" rx="8.4" ry="5.3" fill="#fff" opacity="0.6"/>
<text x="777.6" y="488.5" font-size="8.2" fill="none" stroke="#3f5f7c" stroke-width="0.8" opacity="0.8">30</text>
<text x="779.0" y="501.2" font-size="8.2" fill="none" stroke="#3f5f7c" stroke-width="0.8" opacity="0.8">a</text>
<text x="784.8" y="495.5" font-size="8.2" fill="none" stroke="#3f5f7c" stroke-width="0.8" opacity="0.8">80</text>
<text x="765.5" y="496.8" font-size="8.2" fill="none" stroke="#3f5f7c" stroke-width="0.8" opacity="0.8">8</text>
<circle cx="648" cy="494" r="22" fill="url(#gBub)" stroke="#5f84a2" stroke-width="1.7" opacity="0.88"/><ellipse cx="641.4" cy="484.8" rx="7.7" ry="4.8" fill="#fff" opacity="0.6"/>
<text x="642.2" y="490.7" font-size="7.5" fill="none" stroke="#3f5f7c" stroke-width="0.8" opacity="0.8">e</text>
<text x="648.6" y="498.3" font-size="7.5" fill="none" stroke="#3f5f7c" stroke-width="0.8" opacity="0.8">oa</text>
<text x="637.9" y="496.7" font-size="7.5" fill="none" stroke="#3f5f7c" stroke-width="0.8" opacity="0.8">o</text>
<text x="640.1" y="506.6" font-size="7.5" fill="none" stroke="#3f5f7c" stroke-width="0.8" opacity="0.8">9</text>
<circle cx="645" cy="517" r="17" fill="url(#gBub)" stroke="#5f84a2" stroke-width="1.7" opacity="0.88"/><ellipse cx="639.9" cy="509.9" rx="5.9" ry="3.7" fill="#fff" opacity="0.6"/>
<text x="637.5" y="521.0" font-size="6.0" fill="none" stroke="#3f5f7c" stroke-width="0.8" opacity="0.8">G</text>
<text x="640.2" y="512.1" font-size="6.0" fill="none" stroke="#3f5f7c" stroke-width="0.8" opacity="0.8">ac</text>
<circle cx="675" cy="499" r="12" fill="url(#gBub)" stroke="#5f84a2" stroke-width="1.7" opacity="0.88"/><ellipse cx="671.4" cy="494.0" rx="4.2" ry="2.6" fill="#fff" opacity="0.6"/>
<text x="673.6" y="499.8" font-size="6.0" fill="none" stroke="#3f5f7c" stroke-width="0.8" opacity="0.8">ac</text>
<text x="671.2" y="502.0" font-size="6.0" fill="none" stroke="#3f5f7c" stroke-width="0.8" opacity="0.8">S</text>
<circle cx="590" cy="517" r="9" fill="url(#gBub)" stroke="#5f84a2" stroke-width="1.7" opacity="0.88"/><ellipse cx="587.3" cy="513.2" rx="3.1" ry="2.0" fill="#fff" opacity="0.6"/>
<circle cx="841" cy="503" r="14" fill="url(#gBub)" stroke="#5f84a2" stroke-width="1.7" opacity="0.88"/><ellipse cx="836.8" cy="497.1" rx="4.9" ry="3.1" fill="#fff" opacity="0.6"/>
<text x="843.2" y="507.7" font-size="6.0" fill="none" stroke="#3f5f7c" stroke-width="0.8" opacity="0.8">S</text>
<text x="843.2" y="503.5" font-size="6.0" fill="none" stroke="#3f5f7c" stroke-width="0.8" opacity="0.8">8</text>
<circle cx="879" cy="512" r="22" fill="url(#gBub)" stroke="#5f84a2" stroke-width="1.7" opacity="0.88"/><ellipse cx="872.4" cy="502.8" rx="7.7" ry="4.8" fill="#fff" opacity="0.6"/>
<text x="883.9" y="507.8" font-size="7.5" fill="none" stroke="#3f5f7c" stroke-width="0.8" opacity="0.8">8G</text>
<text x="870.8" y="518.9" font-size="7.5" fill="none" stroke="#3f5f7c" stroke-width="0.8" opacity="0.8">o</text>
<text x="873.0" y="504.5" font-size="7.5" fill="none" stroke="#3f5f7c" stroke-width="0.8" opacity="0.8">8</text>
<text x="877.7" y="519.7" font-size="7.5" fill="none" stroke="#3f5f7c" stroke-width="0.8" opacity="0.8">eS</text>
<circle cx="932" cy="514" r="22" fill="url(#gBub)" stroke="#5f84a2" stroke-width="1.7" opacity="0.88"/><ellipse cx="925.4" cy="504.8" rx="7.7" ry="4.8" fill="#fff" opacity="0.6"/>
<text x="923.3" y="515.0" font-size="7.5" fill="none" stroke="#3f5f7c" stroke-width="0.8" opacity="0.8">6e</text>
<text x="925.2" y="523.7" font-size="7.5" fill="none" stroke="#3f5f7c" stroke-width="0.8" opacity="0.8">S</text>
<text x="938.1" y="516.1" font-size="7.5" fill="none" stroke="#3f5f7c" stroke-width="0.8" opacity="0.8">o</text>
<text x="928.8" y="519.5" font-size="7.5" fill="none" stroke="#3f5f7c" stroke-width="0.8" opacity="0.8">o</text>
<circle cx="975" cy="524" r="14" fill="url(#gBub)" stroke="#5f84a2" stroke-width="1.7" opacity="0.88"/><ellipse cx="970.8" cy="518.1" rx="4.9" ry="3.1" fill="#fff" opacity="0.6"/>
<text x="972.8" y="520.4" font-size="6.0" fill="none" stroke="#3f5f7c" stroke-width="0.8" opacity="0.8">G</text>
<text x="968.4" y="525.4" font-size="6.0" fill="none" stroke="#3f5f7c" stroke-width="0.8" opacity="0.8">S8</text>
<circle cx="886" cy="540" r="18" fill="url(#gBub)" stroke="#5f84a2" stroke-width="1.7" opacity="0.88"/><ellipse cx="880.6" cy="532.4" rx="6.3" ry="4.0" fill="#fff" opacity="0.6"/>
<text x="882.2" y="549.9" font-size="6.1" fill="none" stroke="#3f5f7c" stroke-width="0.8" opacity="0.8">eo</text>
<text x="886.5" y="540.2" font-size="6.1" fill="none" stroke="#3f5f7c" stroke-width="0.8" opacity="0.8">S</text>
<text x="886.7" y="544.4" font-size="6.1" fill="none" stroke="#3f5f7c" stroke-width="0.8" opacity="0.8">3</text>
<text x="883.3" y="545.1" font-size="6.1" fill="none" stroke="#3f5f7c" stroke-width="0.8" opacity="0.8">o</text>
<circle cx="715" cy="546" r="11" fill="url(#gBub)" stroke="#5f84a2" stroke-width="1.7" opacity="0.88"/><ellipse cx="711.7" cy="541.4" rx="3.8" ry="2.4" fill="#fff" opacity="0.6"/>
<circle cx="765" cy="543" r="24" fill="url(#gBub)" stroke="#5f84a2" stroke-width="1.7" opacity="0.88"/><ellipse cx="757.8" cy="532.9" rx="8.4" ry="5.3" fill="#fff" opacity="0.6"/>
<text x="768.1" y="546.0" font-size="8.2" fill="none" stroke="#3f5f7c" stroke-width="0.8" opacity="0.8">e</text>
<text x="770.6" y="548.7" font-size="8.2" fill="none" stroke="#3f5f7c" stroke-width="0.8" opacity="0.8">08</text>
<text x="761.4" y="550.4" font-size="8.2" fill="none" stroke="#3f5f7c" stroke-width="0.8" opacity="0.8">8</text>
<text x="757.4" y="545.4" font-size="8.2" fill="none" stroke="#3f5f7c" stroke-width="0.8" opacity="0.8">3G</text>
<circle cx="800" cy="553" r="22" fill="url(#gBub)" stroke="#5f84a2" stroke-width="1.7" opacity="0.88"/><ellipse cx="793.4" cy="543.8" rx="7.7" ry="4.8" fill="#fff" opacity="0.6"/>
<text x="799.3" y="560.7" font-size="7.5" fill="none" stroke="#3f5f7c" stroke-width="0.8" opacity="0.8">a3</text>
<text x="799.3" y="556.5" font-size="7.5" fill="none" stroke="#3f5f7c" stroke-width="0.8" opacity="0.8">G</text>
<text x="786.7" y="557.7" font-size="7.5" fill="none" stroke="#3f5f7c" stroke-width="0.8" opacity="0.8">a</text>
<text x="799.5" y="550.5" font-size="7.5" fill="none" stroke="#3f5f7c" stroke-width="0.8" opacity="0.8">3</text>
<circle cx="720" cy="571" r="20" fill="url(#gBub)" stroke="#5f84a2" stroke-width="1.7" opacity="0.88"/><ellipse cx="714.0" cy="562.6" rx="7.0" ry="4.4" fill="#fff" opacity="0.6"/>
<text x="721.7" y="572.9" font-size="6.8" fill="none" stroke="#3f5f7c" stroke-width="0.8" opacity="0.8">aS</text>
<text x="712.5" y="581.0" font-size="6.8" fill="none" stroke="#3f5f7c" stroke-width="0.8" opacity="0.8">c</text>
<text x="727.1" y="573.0" font-size="6.8" fill="none" stroke="#3f5f7c" stroke-width="0.8" opacity="0.8">S</text>
<text x="724.4" y="577.1" font-size="6.8" fill="none" stroke="#3f5f7c" stroke-width="0.8" opacity="0.8">6</text>
<circle cx="513" cy="600" r="21" fill="url(#gBub)" stroke="#5f84a2" stroke-width="1.7" opacity="0.88"/><ellipse cx="506.7" cy="591.2" rx="7.3" ry="4.6" fill="#fff" opacity="0.6"/>
<text x="517.4" y="605.5" font-size="7.1" fill="none" stroke="#3f5f7c" stroke-width="0.8" opacity="0.8">S8</text>
<text x="517.2" y="601.5" font-size="7.1" fill="none" stroke="#3f5f7c" stroke-width="0.8" opacity="0.8">a3</text>
<text x="511.9" y="606.9" font-size="7.1" fill="none" stroke="#3f5f7c" stroke-width="0.8" opacity="0.8">69</text>
<text x="507.0" y="606.5" font-size="7.1" fill="none" stroke="#3f5f7c" stroke-width="0.8" opacity="0.8">G</text>
<circle cx="519" cy="687" r="20" fill="url(#gBub)" stroke="#5f84a2" stroke-width="1.7" opacity="0.88"/><ellipse cx="513.0" cy="678.6" rx="7.0" ry="4.4" fill="#fff" opacity="0.6"/>
<text x="520.6" y="688.7" font-size="6.8" fill="none" stroke="#3f5f7c" stroke-width="0.8" opacity="0.8">c6</text>
<text x="514.9" y="692.0" font-size="6.8" fill="none" stroke="#3f5f7c" stroke-width="0.8" opacity="0.8">86</text>
<text x="518.1" y="695.5" font-size="6.8" fill="none" stroke="#3f5f7c" stroke-width="0.8" opacity="0.8">a3</text>
<text x="516.0" y="692.4" font-size="6.8" fill="none" stroke="#3f5f7c" stroke-width="0.8" opacity="0.8">o</text>
<circle cx="661" cy="641" r="14" fill="url(#gBub)" stroke="#5f84a2" stroke-width="1.7" opacity="0.88"/><ellipse cx="656.8" cy="635.1" rx="4.9" ry="3.1" fill="#fff" opacity="0.6"/>
<text x="656.2" y="645.3" font-size="6.0" fill="none" stroke="#3f5f7c" stroke-width="0.8" opacity="0.8">06</text>
<text x="654.8" y="641.2" font-size="6.0" fill="none" stroke="#3f5f7c" stroke-width="0.8" opacity="0.8">o</text>
<circle cx="925" cy="636" r="15" fill="url(#gBub)" stroke="#5f84a2" stroke-width="1.7" opacity="0.88"/><ellipse cx="920.5" cy="629.7" rx="5.2" ry="3.3" fill="#fff" opacity="0.6"/>
<text x="927.4" y="634.5" font-size="6.0" fill="none" stroke="#3f5f7c" stroke-width="0.8" opacity="0.8">3</text>
<text x="926.1" y="643.1" font-size="6.0" fill="none" stroke="#3f5f7c" stroke-width="0.8" opacity="0.8">e9</text>
<circle cx="1100" cy="692" r="22" fill="url(#gBub)" stroke="#5f84a2" stroke-width="1.7" opacity="0.88"/><ellipse cx="1093.4" cy="682.8" rx="7.7" ry="4.8" fill="#fff" opacity="0.6"/>
<text x="1100.8" y="687.4" font-size="7.5" fill="none" stroke="#3f5f7c" stroke-width="0.8" opacity="0.8">6</text>
<text x="1104.4" y="690.2" font-size="7.5" fill="none" stroke="#3f5f7c" stroke-width="0.8" opacity="0.8">a8</text>
<text x="1088.3" y="689.9" font-size="7.5" fill="none" stroke="#3f5f7c" stroke-width="0.8" opacity="0.8">3</text>
<text x="1100.3" y="695.6" font-size="7.5" fill="none" stroke="#3f5f7c" stroke-width="0.8" opacity="0.8">o</text>
<text x="78.6" y="98.7" font-size="44" fill="#0d0d0d" stroke="#0d0d0d" stroke-width="1.1" textLength="400" lengthAdjust="spacingAndGlyphs">Focused Ultrasound</text>
<text x="91.5" y="151" font-size="44" fill="#0d0d0d" stroke="#0d0d0d" stroke-width="1.1" textLength="128.5" lengthAdjust="spacingAndGlyphs">Waves</text>
<text x="131" y="370.6" font-size="44" fill="#0d0d0d" stroke="#0d0d0d" stroke-width="1.1" textLength="264" lengthAdjust="spacingAndGlyphs">Microbubbles</text>
<text x="1176.6" y="290" font-size="44" fill="#0d0d0d" stroke="#0d0d0d" stroke-width="1.1" textLength="250" lengthAdjust="spacingAndGlyphs">Converichser</text>
<text x="100.3" y="966.8" font-size="44" fill="#0d0d0d" stroke="#0d0d0d" stroke-width="1.1" textLength="340" lengthAdjust="spacingAndGlyphs">Endothelial Lining</text>
<text x="663.7" y="1014.6" font-size="44" fill="#0d0d0d" stroke="#0d0d0d" stroke-width="1.1" textLength="248" lengthAdjust="spacingAndGlyphs">Blood Vessel</text>
<text x="1182.4" y="994.8" font-size="44" fill="#0d0d0d" stroke="#0d0d0d" stroke-width="1.1" textLength="54" lengthAdjust="spacingAndGlyphs">Po</text>
<line x1="342" y1="140" x2="645" y2="140" stroke="#111" stroke-width="2.2"/><path d="M657,140 L644,135 L644,145 Z" fill="#111"/>
<line x1="298" y1="389.5" x2="440.5" y2="508" stroke="#111" stroke-width="2.2"/>
<line x1="1261" y1="317" x2="1138" y2="502" stroke="#111" stroke-width="2.2"/>
<line x1="250.6" y1="918" x2="281" y2="838" stroke="#111" stroke-width="2.2"/><path d="M285,827 L276,840 L287,843 Z" fill="#111"/>
<line x1="774" y1="959.7" x2="767" y2="796" stroke="#111" stroke-width="2.2"/><path d="M766,784 L760,798 L772,798 Z" fill="#111"/>
<line x1="1098" y1="851" x2="1198.8" y2="941" stroke="#111" stroke-width="2.2"/>
<rect x="1238.3" y="926.6" width="283" height="80" rx="9" fill="#fff" stroke="#aaaaaa" stroke-width="2"/>
<text x="1307" y="959.7" font-size="18" font-weight="bold" fill="#3a3a3a" textLength="139" lengthAdjust="spacingAndGlyphs">Neuromodulation</text>
<text x="1304" y="983" font-size="17.5" fill="#6f6f6f" textLength="142" lengthAdjust="spacingAndGlyphs">neuromodulation.co</text>
<defs><linearGradient id="gHead" x1="0" x2="1"><stop offset="0" stop-color="#3f1f80"/><stop offset="1" stop-color="#7048b8"/></linearGradient></defs>
<path d="M1476,949 C1484,948 1492,952 1494,958 C1496,962 1495.5,966 1495,969 L1496.5,974 L1494.5,975.5 C1494,979 1492,983 1489,985 L1484,985.5 L1477,992 L1476,992 Z" fill="url(#gHead)"/>
<line x1="1476" y1="942" x2="1476" y2="993" stroke="#3b1670" stroke-width="1.6"/>
<circle cx="1463.8" cy="948.0" r="1.4" fill="none" stroke="#4aa88a" stroke-width="0.9"/><line x1="1463.8" y1="948.0" x2="1468.8" y2="944.0" stroke="#6bbfa0" stroke-width="0.8"/>
<circle cx="1468.0" cy="973.1" r="1.4" fill="none" stroke="#4aa88a" stroke-width="0.9"/><line x1="1468.0" y1="973.1" x2="1463.0" y2="977.1" stroke="#6bbfa0" stroke-width="0.8"/>
<circle cx="1462.2" cy="964.9" r="1.4" fill="none" stroke="#4aa88a" stroke-width="0.9"/><line x1="1462.2" y1="964.9" x2="1457.2" y2="960.9" stroke="#6bbfa0" stroke-width="0.8"/>
<circle cx="1468.5" cy="946.2" r="1.4" fill="none" stroke="#4aa88a" stroke-width="0.9"/><line x1="1468.5" y1="946.2" x2="1473.5" y2="950.2" stroke="#6bbfa0" stroke-width="0.8"/>
<circle cx="1470.9" cy="983.6" r="1.4" fill="none" stroke="#4aa88a" stroke-width="0.9"/><line x1="1470.9" y1="983.6" x2="1465.9" y2="979.6" stroke="#6bbfa0" stroke-width="0.8"/>
<circle cx="1461.7" cy="974.2" r="1.4" fill="none" stroke="#4aa88a" stroke-width="0.9"/><line x1="1461.7" y1="974.2" x2="1466.7" y2="978.2" stroke="#6bbfa0" stroke-width="0.8"/>
<circle cx="1471.5" cy="946.7" r="1.4" fill="none" stroke="#4aa88a" stroke-width="0.9"/><line x1="1471.5" y1="946.7" x2="1476.5" y2="942.7" stroke="#6bbfa0" stroke-width="0.8"/>
<circle cx="1467.9" cy="973.9" r="1.4" fill="none" stroke="#4aa88a" stroke-width="0.9"/><line x1="1467.9" y1="973.9" x2="1462.9" y2="969.9" stroke="#6bbfa0" stroke-width="0.8"/>
<circle cx="1463.3" cy="974.3" r="1.4" fill="none" stroke="#4aa88a" stroke-width="0.9"/><line x1="1463.3" y1="974.3" x2="1468.3" y2="970.3" stroke="#6bbfa0" stroke-width="0.8"/>
<circle cx="1458.2" cy="945.9" r="1.4" fill="none" stroke="#4aa88a" stroke-width="0.9"/><line x1="1458.2" y1="945.9" x2="1463.2" y2="941.9" stroke="#6bbfa0" stroke-width="0.8"/>
<circle cx="1469.1" cy="975.4" r="1.4" fill="none" stroke="#4aa88a" stroke-width="0.9"/><line x1="1469.1" y1="975.4" x2="1474.1" y2="979.4" stroke="#6bbfa0" stroke-width="0.8"/>
<circle cx="1465.4" cy="965.4" r="1.4" fill="none" stroke="#4aa88a" stroke-width="0.9"/><line x1="1465.4" y1="965.4" x2="1460.4" y2="961.4" stroke="#6bbfa0" stroke-width="0.8"/>
<circle cx="1463.0" cy="947.1" r="1.4" fill="none" stroke="#4aa88a" stroke-width="0.9"/><line x1="1463.0" y1="947.1" x2="1468.0" y2="943.1" stroke="#6bbfa0" stroke-width="0.8"/>
<circle cx="1462.6" cy="946.7" r="1.4" fill="none" stroke="#4aa88a" stroke-width="0.9"/><line x1="1462.6" y1="946.7" x2="1467.6" y2="950.7" stroke="#6bbfa0" stroke-width="0.8"/>
<circle cx="1464.2" cy="987.0" r="1.4" fill="none" stroke="#4aa88a" stroke-width="0.9"/><line x1="1464.2" y1="987.0" x2="1459.2" y2="983.0" stroke="#6bbfa0" stroke-width="0.8"/>
<circle cx="1467.3" cy="949.8" r="1.4" fill="none" stroke="#4aa88a" stroke-width="0.9"/><line x1="1467.3" y1="949.8" x2="1472.3" y2="953.8" stroke="#6bbfa0" stroke-width="0.8"/>
<circle cx="1460.1" cy="982.4" r="1.4" fill="none" stroke="#4aa88a" stroke-width="0.9"/><line x1="1460.1" y1="982.4" x2="1465.1" y2="978.4" stroke="#6bbfa0" stroke-width="0.8"/>
<circle cx="1469.3" cy="954.1" r="1.4" fill="none" stroke="#4aa88a" stroke-width="0.9"/><line x1="1469.3" y1="954.1" x2="1474.3" y2="958.1" stroke="#6bbfa0" stroke-width="0.8"/>
</svg></body></html>
